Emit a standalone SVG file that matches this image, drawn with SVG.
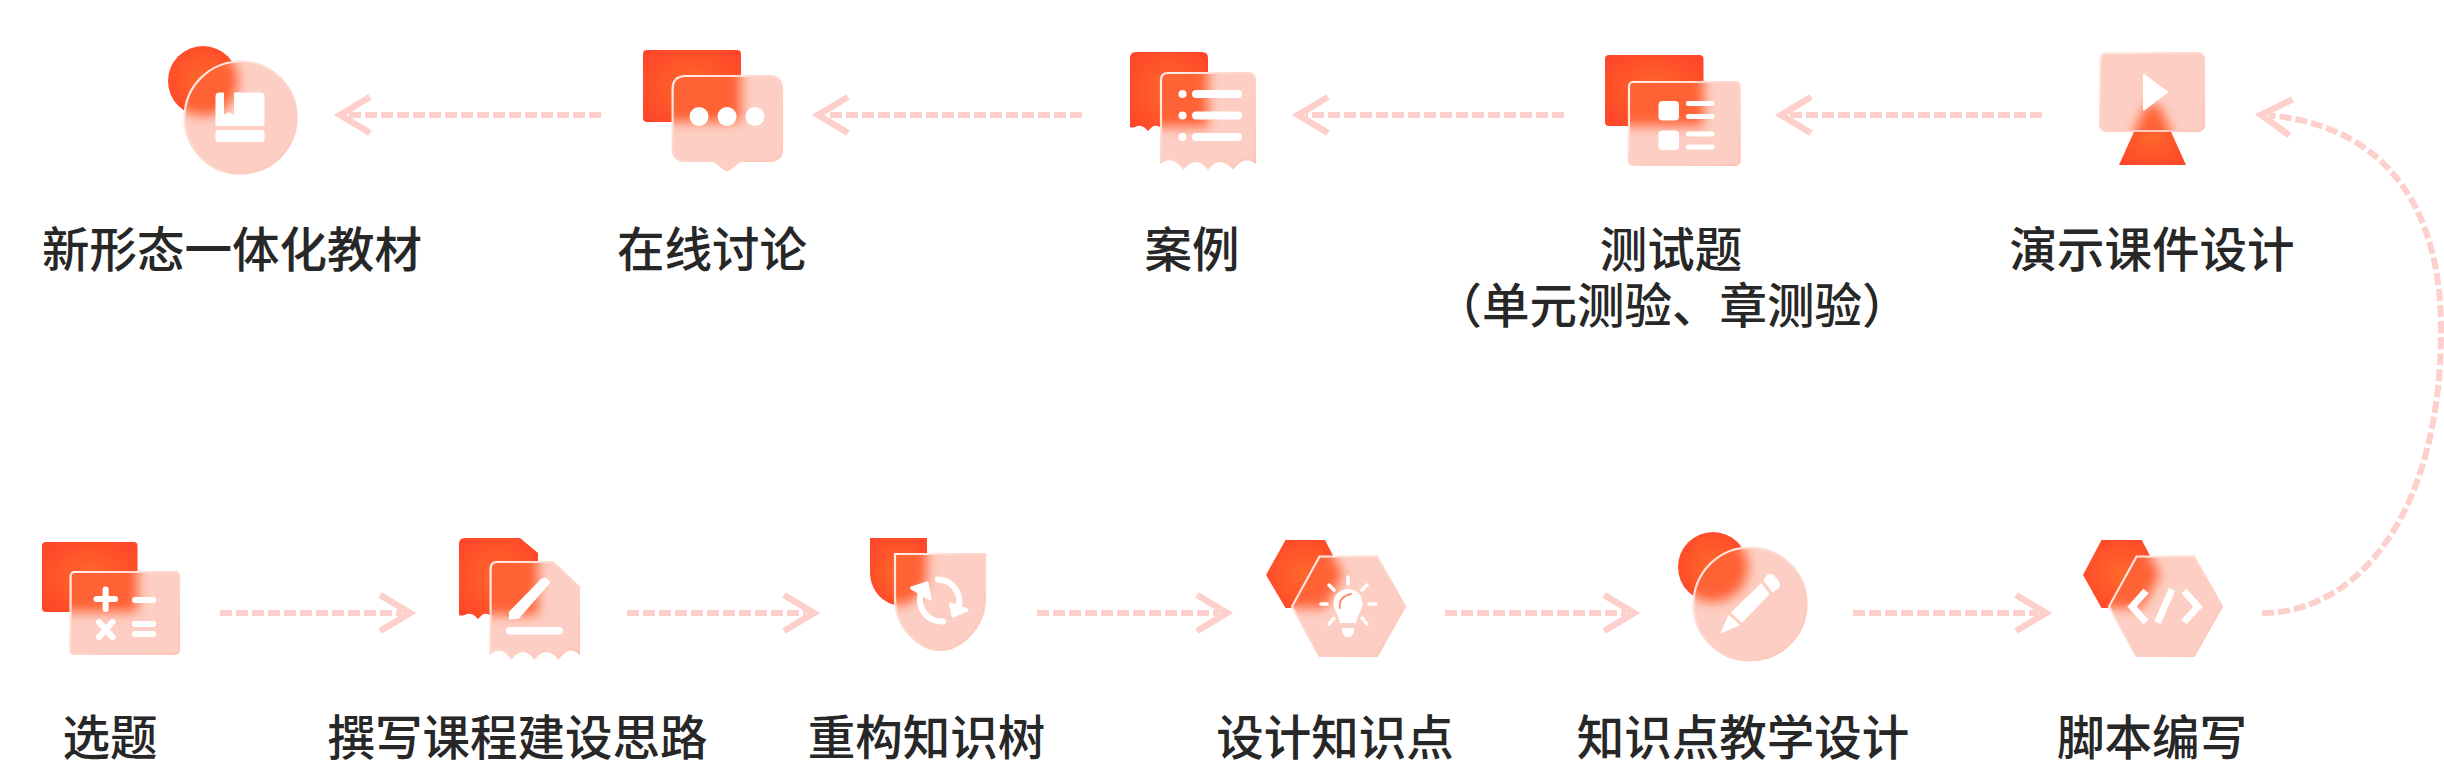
<svg xmlns="http://www.w3.org/2000/svg" width="2444" height="764" viewBox="0 0 2444 764">
<style>
.lb{font-family:"Noto Sans CJK SC","Noto Sans",sans-serif;font-size:47.5px;font-weight:500;fill:#272727;text-anchor:middle}
.red{fill:url(#rg)}
.glass{fill:#FDCFC4}
.halo{fill:#FF6236;filter:url(#soft)}
.edge{fill:none;stroke:url(#eg);stroke-width:2.2}
.w{fill:#fff}
.ws{fill:none;stroke:#fff;stroke-linecap:round;stroke-linejoin:round}
.link{fill:none;stroke:#FDD0CC;stroke-width:6;stroke-dasharray:12 4;marker-end:url(#head)}
</style>
<defs>
<radialGradient id="rg" cx=".5" cy=".5" r=".62"><stop offset="0" stop-color="#FF692B"/><stop offset="1" stop-color="#FF4629"/></radialGradient>
<linearGradient id="eg" x1="0" y1="0" x2="1" y2="1"><stop offset="0" stop-color="#FFEFEA"/><stop offset=".45" stop-color="#FED5CB"/><stop offset="1" stop-color="#FEC3B7"/></linearGradient>
<filter id="soft" x="-50%" y="-50%" width="200%" height="200%"><feGaussianBlur stdDeviation="6"/></filter>
<marker id="head" markerUnits="userSpaceOnUse" markerWidth="50" markerHeight="50" viewBox="0 0 50 50" refX="30" refY="25" orient="auto"><path d="M8 7L38 25L8 43" fill="none" stroke="#FDD0CC" stroke-width="6.5"/></marker>

<circle id="r1" cx="203" cy="81" r="35"/><circle id="g1" cx="240.5" cy="117.5" r="56"/>
<rect id="r2" x="643" y="50" width="98" height="72" rx="4"/>
<path id="g2" d="M686 76H769Q782 76 782 89V148Q782 161 769 161H740L731 168Q727 172 723 168L714 161H686Q672.600 161 672.600 148V89Q672.600 76 686 76Z"/>
<path id="r3" d="M1130 58Q1130 52 1136 52H1202Q1208 52 1208 58V127H1160Q1154 124 1151 128L1148 131L1145 128Q1140 124 1135 127Q1131 128 1130 127Z"/>
<path id="g3" d="M1168 73H1248Q1255 73 1255 80V162Q1244 154 1233 168Q1220 154 1208 168Q1196 154 1183.500 168Q1172 154 1161 162V80Q1161 73 1168 73Z"/>
<rect id="r4" x="1605" y="55" width="98.500" height="71" rx="4"/><rect id="g4" x="1629" y="82" width="110.600" height="83" rx="4"/>
<path id="r5" d="M2146 105H2159L2186 165H2119Z"/><rect id="g5" x="2100" y="53" width="104" height="78" rx="6"/>
<rect id="r6" x="42" y="542" width="95.500" height="70" rx="4"/><rect id="g6" x="70.600" y="572" width="108.400" height="82" rx="4"/>
<path id="r7" d="M459 544Q459 538 465 538H520L538 553V615H490Q484 612 481 616L478 619L475 616Q470 612 465 615Q460 616 459 615Z"/>
<path id="g7" d="M497 562H553L579 587V653Q569 644 558.500 658Q546 644 534.500 658Q523 644 511.500 658Q501 644 490.600 653V569Q490.600 562 497 562Z"/>
<path id="r8" d="M870 538H927V572C927 592 912 605 898.500 605C885 605 870 592 870 572Z"/>
<path id="g8" d="M895 554H985V598C985 628 960 650 940 650C920 650 895 628 895 598Z"/>
<path id="r9" d="M1266 575L1285.500 540H1325L1343 575L1325 608H1285.500Z"/>
<path id="g9" d="M1292 606.500L1319.500 556.500H1377L1405 606.500L1377 656H1319.500Z"/>
<circle id="r10" cx="1713" cy="567" r="35"/><circle id="g10" cx="1750" cy="604" r="56.500"/>
<path id="r11" d="M2083 575L2101.500 540H2141.800L2160 575L2141.800 608H2101.500Z"/>
<path id="g11" d="M2109 606.500L2136.500 556.500H2194L2222 606.500L2194 656H2136.500Z"/>
<clipPath id="c1"><use href="#g1"/></clipPath><clipPath id="c2"><use href="#g2"/></clipPath><clipPath id="c3"><use href="#g3"/></clipPath><clipPath id="c4"><use href="#g4"/></clipPath><clipPath id="c5"><use href="#g5"/></clipPath><clipPath id="c6"><use href="#g6"/></clipPath><clipPath id="c7"><use href="#g7"/></clipPath><clipPath id="c8"><use href="#g8"/></clipPath><clipPath id="c9"><use href="#g9"/></clipPath><clipPath id="c10"><use href="#g10"/></clipPath><clipPath id="c11"><use href="#g11"/></clipPath>
</defs>
<rect width="2444" height="764" fill="#fff"/>
<g id="connectors">
<path class="link" d="M2042 115H1789"/>
<path class="link" d="M1564 115H1306"/>
<path class="link" d="M1082 115H826"/>
<path class="link" d="M601 115H348"/>
<path class="link" d="M220 613H402"/>
<path class="link" d="M627 613H806"/>
<path class="link" d="M1037 613H1219"/>
<path class="link" d="M1445 613H1626"/>
<path class="link" d="M1853 613H2038"/>
<path class="link" d="M2262 613C2360 613 2441 510 2441 330C2441 190 2370 124 2269 115.500"/>
</g>
<g id="n-textbook">
<use href="#r1" class="red"/><g clip-path="url(#c1)"><use href="#g1" class="glass"/><use href="#r1" class="halo"/></g><use href="#g1" class="edge"/>
<path class="w" d="M219.500 92.500H224V115L229 112L234 115V92.500H260.500Q264.500 92.500 264.500 96.500V126H215.500V96.500Q215.500 92.500 219.500 92.500Z"/><rect class="w" x="215.500" y="130" width="49" height="12" rx="3"/>
<text class="lb" x="232" y="267">新形态一体化教材</text></g>
<g id="n-discussion">
<use href="#r2" class="red"/><g clip-path="url(#c2)"><use href="#g2" class="glass"/><use href="#r2" class="halo"/></g><use href="#g2" class="edge"/>
<circle class="w" cx="699" cy="116.500" r="9.500"/><circle class="w" cx="727" cy="116.500" r="9.500"/><circle class="w" cx="755" cy="116.500" r="9.500"/>
<text class="lb" x="712" y="267">在线讨论</text></g>
<g id="n-case">
<use href="#r3" class="red"/><g clip-path="url(#c3)"><use href="#g3" class="glass"/><use href="#r3" class="halo"/></g><use href="#g3" class="edge"/>
<circle class="w" cx="1182.500" cy="94" r="4"/><circle class="w" cx="1182.500" cy="115.500" r="4"/><circle class="w" cx="1182.500" cy="137" r="4"/>
<rect class="w" x="1192" y="90" width="50" height="8" rx="4"/><rect class="w" x="1192" y="111.500" width="50" height="8" rx="4"/><rect class="w" x="1192" y="133" width="50" height="8" rx="4"/>
<text class="lb" x="1192" y="267">案例</text></g>
<g id="n-test">
<use href="#r4" class="red"/><g clip-path="url(#c4)"><use href="#g4" class="glass"/><use href="#r4" class="halo"/></g><use href="#g4" class="edge"/>
<rect class="w" x="1658.500" y="101" width="20.500" height="19.500" rx="4"/><rect class="w" x="1658.500" y="130.500" width="20.500" height="19.500" rx="4"/>
<rect class="w" x="1686" y="101" width="28.500" height="5" rx="2"/><rect class="w" x="1686" y="114" width="28.500" height="5" rx="2"/><rect class="w" x="1686" y="131.500" width="28.500" height="5" rx="2"/><rect class="w" x="1686" y="144.500" width="28.500" height="5" rx="2"/>
<text class="lb" x="1671" y="267">测试题</text><text class="lb" x="1672" y="323">（单元测验、章测验）</text></g>
<g id="n-slides">
<use href="#r5" class="red"/><g clip-path="url(#c5)"><use href="#g5" class="glass"/><use href="#r5" class="halo"/></g><use href="#g5" class="edge"/>
<path class="w" d="M2144 75L2167 92L2144 109.500Z" stroke="#fff" stroke-width="2" stroke-linejoin="round"/>
<text class="lb" x="2152" y="267">演示课件设计</text></g>
<g id="n-topic">
<use href="#r6" class="red"/><g clip-path="url(#c6)"><use href="#g6" class="glass"/><use href="#r6" class="halo"/></g><use href="#g6" class="edge"/>
<path class="ws" stroke-width="6" d="M96.500 599H115M105.600 589.500V609M135 600H153M99 622L112.500 637M112.500 622L99 637M135 624H153M135 634H153"/>
<text class="lb" x="110" y="755">选题</text></g>
<g id="n-outline">
<use href="#r7" class="red"/><g clip-path="url(#c7)"><use href="#g7" class="glass"/><use href="#r7" class="halo"/></g><use href="#g7" class="edge"/>
<path class="w" d="M509 611.700L541 579Q547 575 550 583L518.800 618.700L509 619.500Z"/><rect class="w" x="506" y="627" width="57" height="7.500" rx="3.500"/>
<text class="lb" x="517.500" y="755">撰写课程建设思路</text></g>
<g id="n-tree">
<use href="#r8" class="red"/><g clip-path="url(#c8)"><use href="#g8" class="glass"/><use href="#r8" class="halo"/></g><use href="#g8" class="edge"/>
<path class="ws" stroke-width="6" d="M943 621.500A22 22 0 0 1 922 590M938 579.500A22 22 0 0 1 958.600 607"/>
<path class="w" d="M911.500 588L927 583L930 599Z" stroke="#fff" stroke-width="3" stroke-linejoin="round"/><path class="w" d="M950.500 604L967 610L953 616Z" stroke="#fff" stroke-width="3" stroke-linejoin="round"/>
<text class="lb" x="926.500" y="755">重构知识树</text></g>
<g id="n-point">
<use href="#r9" class="red"/><g clip-path="url(#c9)"><use href="#g9" class="glass"/><use href="#r9" class="halo"/></g><use href="#g9" class="edge"/>
<path class="w" d="M1348 589C1356 589 1362.500 595 1362.500 603C1362.500 610 1358 613 1356 623H1340C1338 613 1333.500 610 1333.500 603C1333.500 595 1340 589 1348 589ZM1342 628H1354V632L1351 637H1345L1342 632Z"/>
<path d="M1340 608Q1338 597 1351 594" fill="none" stroke="#FF8A68" stroke-width="1.800" stroke-linecap="round"/>
<path class="ws" stroke-width="3.500" d="M1348 577V584M1329 585L1334 590M1367 585L1362 590M1321 604H1327M1369 604H1376M1329 624L1334 618M1367 624L1362 618"/>
<text class="lb" x="1335" y="755">设计知识点</text></g>
<g id="n-lesson">
<use href="#r10" class="red"/><g clip-path="url(#c10)"><use href="#g10" class="glass"/><use href="#r10" class="halo"/></g><use href="#g10" class="edge"/>
<path class="w" d="M1720 634L1728.600 615L1740 625ZM1730.600 612.800L1761.500 583L1769.400 594.300L1742 622.800ZM1763.500 580.500L1767 575Q1770 573 1774 575.500L1778 580Q1781 584 1779 588L1772.500 592.500Z"/>
<text class="lb" x="1743" y="755">知识点教学设计</text></g>
<g id="n-script">
<use href="#r11" class="red"/><g clip-path="url(#c11)"><use href="#g11" class="glass"/><use href="#r11" class="halo"/></g><use href="#g11" class="edge"/>
<path fill="none" stroke="#fff" stroke-width="7" d="M2146 591L2132 606.700L2146 622M2184 591L2198 606.700L2184 622M2172 589.300L2157.500 622.700"/>
<text class="lb" x="2152" y="755">脚本编写</text></g>
</svg>
